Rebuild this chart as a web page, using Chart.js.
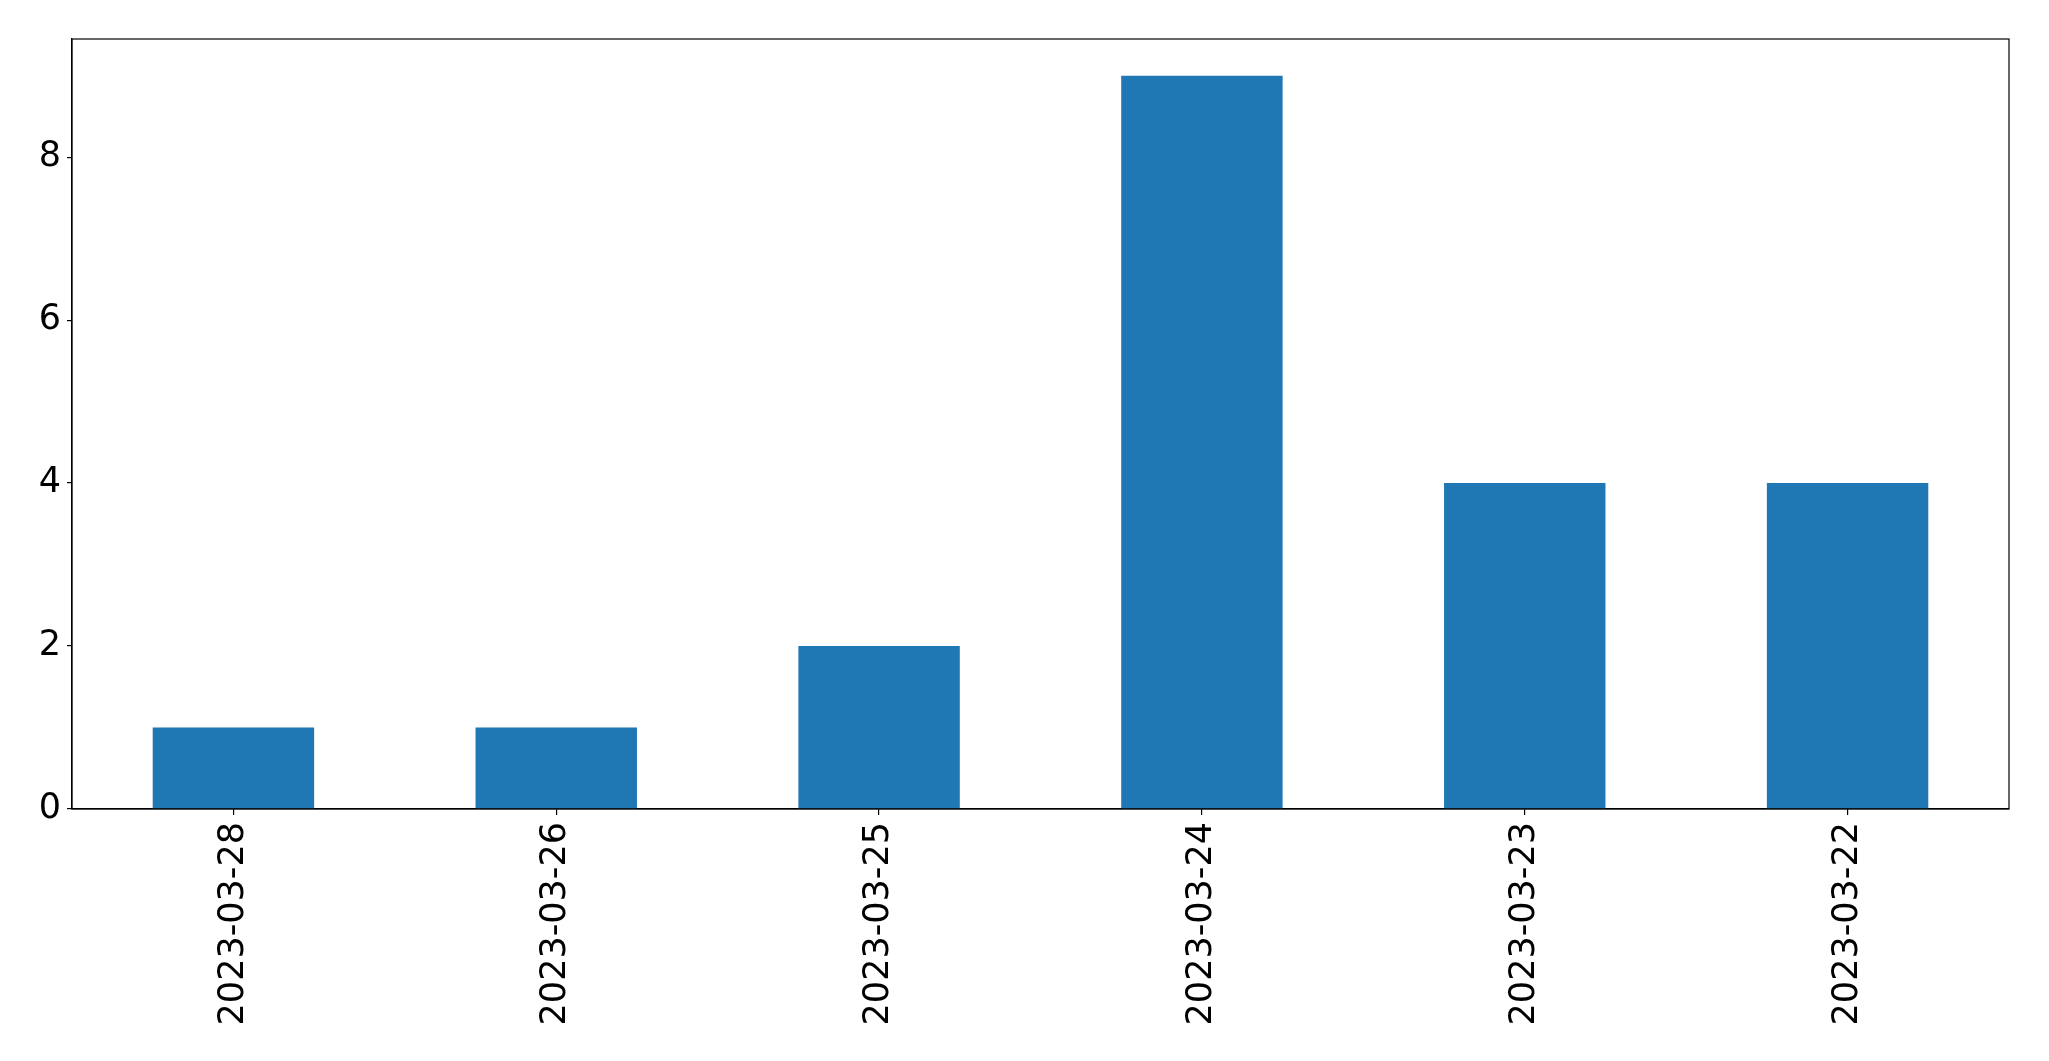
<!DOCTYPE html>
<html>
<head>
<meta charset="utf-8">
<script src="https://cdn.jsdelivr.net/npm/chart.js@4/dist/chart.umd.min.js"></script>
<style>
html,body{margin:0;padding:0;background:#fff;}
#wrap{width:2049px;height:1061px;position:relative;}
</style>
</head>
<body>
<div id="wrap"><canvas id="c" width="2049" height="1061"></canvas></div>
<script>
const categories = ["2023-03-28","2023-03-26","2023-03-25","2023-03-24","2023-03-23","2023-03-22"];
const values = [1, 1, 2, 9, 4, 4];
const yTicks = [0, 2, 4, 6, 8];
const yMax = 9.45;

const frame = {
  id: 'frame',
  afterDraw(chart) {
    const a = chart.chartArea, ctx = chart.ctx;
    ctx.save();
    ctx.strokeStyle = '#000';
    ctx.lineWidth = 1.2;
    ctx.strokeRect(a.left, a.top, a.right - a.left, a.bottom - a.top);
    ctx.restore();
  }
};

new Chart(document.getElementById('c'), {
  type: 'bar',
  data: {
    labels: categories,
    datasets: [{ data: values, backgroundColor: '#1f77b4', borderWidth: 0,
      categoryPercentage: 1.0, barPercentage: 0.5 }]
  },
  options: {
    responsive: false,
    animation: false,
    devicePixelRatio: 1,
    layout: { padding: { top: 39, right: 40, left: 0, bottom: 0 } },
    plugins: { legend: { display: false }, tooltip: { enabled: false } },
    scales: {
      x: {
        grid: { display: true, offset: false, drawOnChartArea: false, drawTicks: true, tickLength: 6, color: '#000', lineWidth: 1.2 },
        border: { display: true, color: '#000', width: 1.2 },
        ticks: { color: '#000', font: { family: 'DejaVu Sans', size: 35 }, minRotation: 90, maxRotation: 90, padding: 7, autoSkip: false },
        afterFit(s) { s.height = 252; }
      },
      y: {
        min: 0, max: yMax,
        grid: { display: true, drawOnChartArea: false, drawTicks: true, tickLength: 5, color: '#000', lineWidth: 1.2 },
        border: { display: true, color: '#000', width: 1.2 },
        afterBuildTicks(s) { s.ticks = yTicks.map(v => ({ value: v })); },
        ticks: { color: '#000', font: { family: 'DejaVu Sans', size: 35 }, padding: 6, includeBounds: false },
        afterFit(s) { s.width = 72; }
      }
    }
  },
  plugins: [frame]
});
</script>
</body>
</html>
